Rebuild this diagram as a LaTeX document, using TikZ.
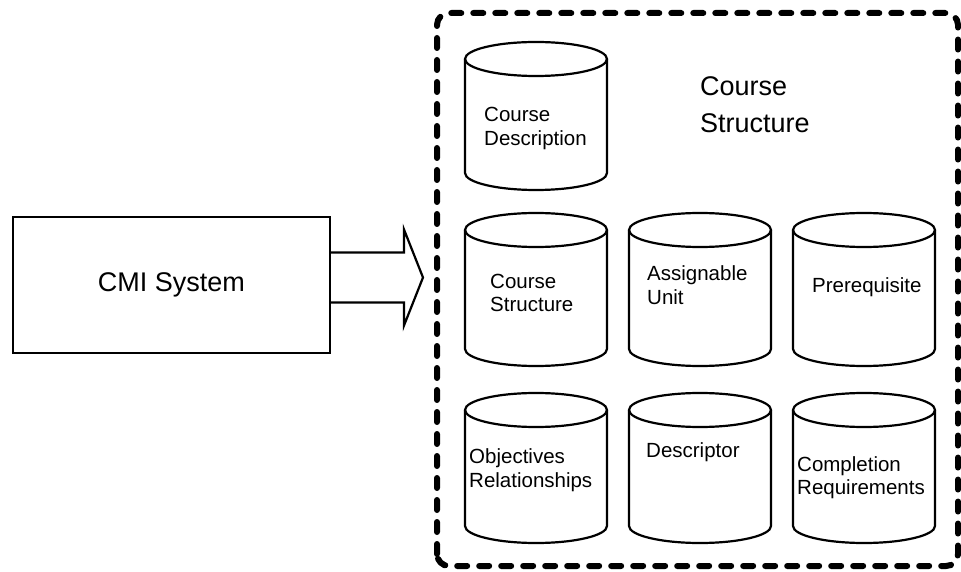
\documentclass[tikz,border=0pt]{standalone}
\usepackage{fontspec}
\setmainfont{Liberation Sans}
\begin{document}
\begin{tikzpicture}[x=1pt,y=1pt,
  drum/.style={line width=2.2pt},
  drumtext/.style={anchor=west, inner sep=0pt, align=left, font=\fontsize{20.5}{23.5}\selectfont},
  bigtext/.style={anchor=west, inner sep=0pt, align=left, font=\fontsize{27}{37}\selectfont}]
\useasboundingbox (0,0) rectangle (961,571);
% CMI box and block arrow:
\node[draw, line width=2.2pt, outer sep=0pt, minimum width=317pt, minimum height=136pt, font=\fontsize{27}{32}\selectfont] (cmi) at (171.5,286) {CMI System};
\coordinate (tip) at (423,293.5);
\draw[line width=2.2pt, line join=miter] ([yshift=32.5pt]cmi.east) -- (404,318.5) -- (404,341.5) -- (tip) -- (404,245.5) -- (404,268.5) -- ([yshift=-17.5pt]cmi.east);
% dashed frame:
\draw[line width=6pt, dash pattern=on 10pt off 12pt, line cap=round, rounded corners=12pt] (437,5) rectangle (958,558);
\node[bigtext] (title) at (700,466) {Course\\Structure};
% top row:
\draw[drum] (536,512) ellipse [x radius=71, y radius=17];
\draw[drum] (465,512) -- (465,398) arc [start angle=180, end angle=360, x radius=71, y radius=17] -- (607,512);
\node[drumtext] (cdesc) at (484,442.5) {Course\\Description};
% middle row:
\draw[drum] (536,341) ellipse [x radius=71, y radius=17];
\draw[drum] (465,341) -- (465,222) arc [start angle=180, end angle=360, x radius=71, y radius=17] -- (607,341);
\draw[drum] (700,341) ellipse [x radius=71, y radius=17];
\draw[drum] (629,341) -- (629,222) arc [start angle=180, end angle=360, x radius=71, y radius=17] -- (771,341);
\draw[drum] (864,341) ellipse [x radius=71, y radius=17];
\draw[drum] (793,341) -- (793,222) arc [start angle=180, end angle=360, x radius=71, y radius=17] -- (935,341);
\node[drumtext] (cstruct) at (490,278) {Course\\Structure};
\node[drumtext] (aunit) at (647,286) {Assignable\\Unit};
\node[drumtext] (prereq) at (812,284) {Prerequisite};
% bottom row:
\draw[drum] (536,161) ellipse [x radius=71, y radius=17];
\draw[drum] (465,161) -- (465,45) arc [start angle=180, end angle=360, x radius=71, y radius=17] -- (607,161);
\draw[drum] (700,161) ellipse [x radius=71, y radius=17];
\draw[drum] (629,161) -- (629,45) arc [start angle=180, end angle=360, x radius=71, y radius=17] -- (771,161);
\draw[drum] (864,161) ellipse [x radius=71, y radius=17];
\draw[drum] (793,161) -- (793,45) arc [start angle=180, end angle=360, x radius=71, y radius=17] -- (935,161);
\node[drumtext] (objrel) at (469,101) {Objectives\\Relationships};
\node[drumtext] (descr) at (646,119) {Descriptor};
\node[drumtext] (compreq) at (797,93.5) {Completion\\Requirements};
\end{tikzpicture}
\end{document}
